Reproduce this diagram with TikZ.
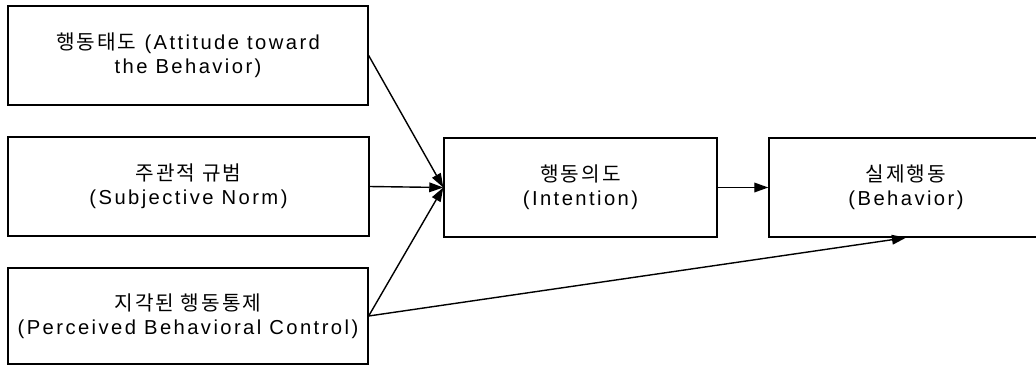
\documentclass[tikz,border=0pt]{standalone}
\usepackage{fontspec}
\setmainfont{Liberation Sans}[LetterSpace=12]
\newfontfamily\kr{Noto Sans CJK KR}[LetterSpace=10]
\usetikzlibrary{arrows.meta}

\begin{document}
\begin{tikzpicture}[x=0.02cm,y=-0.02cm,
    >={Triangle[length=8pt,width=5.5pt]},
    box/.style={draw,line width=0.8pt,align=center,inner sep=0pt,
        font=\fontsize{11.5}{13.8}\selectfont}]
    \useasboundingbox (0,0) rectangle (1036,366);

    \node [box,minimum width=7.2cm,minimum height=1.98cm] (att) at (188,55.5)%
        {{\kr 행동태도} (Attitude toward\\the Behavior)};
    \node [box,minimum width=7.22cm,minimum height=1.98cm] (norm) at (188.5,186.5)%
        {{\kr 주관적 규범}\\(Subjective Norm)};
    \node [box,minimum width=7.2cm,minimum height=1.92cm] (pbc) at (188,316)%
        {{\kr 지각된 행동통제}\\(Perceived Behavioral Control)};

    \node [box,minimum width=5.46cm,minimum height=1.98cm] (int) at (580.5,187.5)%
        {{\kr 행동의도}\\(Intention)};
    \node [box,minimum width=5.48cm,minimum height=1.98cm] (beh) at (906,187.5)%
        {{\kr 실제행동}\\(Behavior)};

    \draw [->,line width=0.8pt] (att.east) -- (int.west);
    \draw [->,line width=0.8pt] (norm.east) -- (int.west);
    \draw [->,line width=0.8pt] (pbc.east) -- (int.west);
    \draw [->,line width=0.8pt] (int.east) -- (beh.west);
    \draw [->,line width=0.8pt] (pbc.east) -- (beh.south);
\end{tikzpicture}
\end{document}
